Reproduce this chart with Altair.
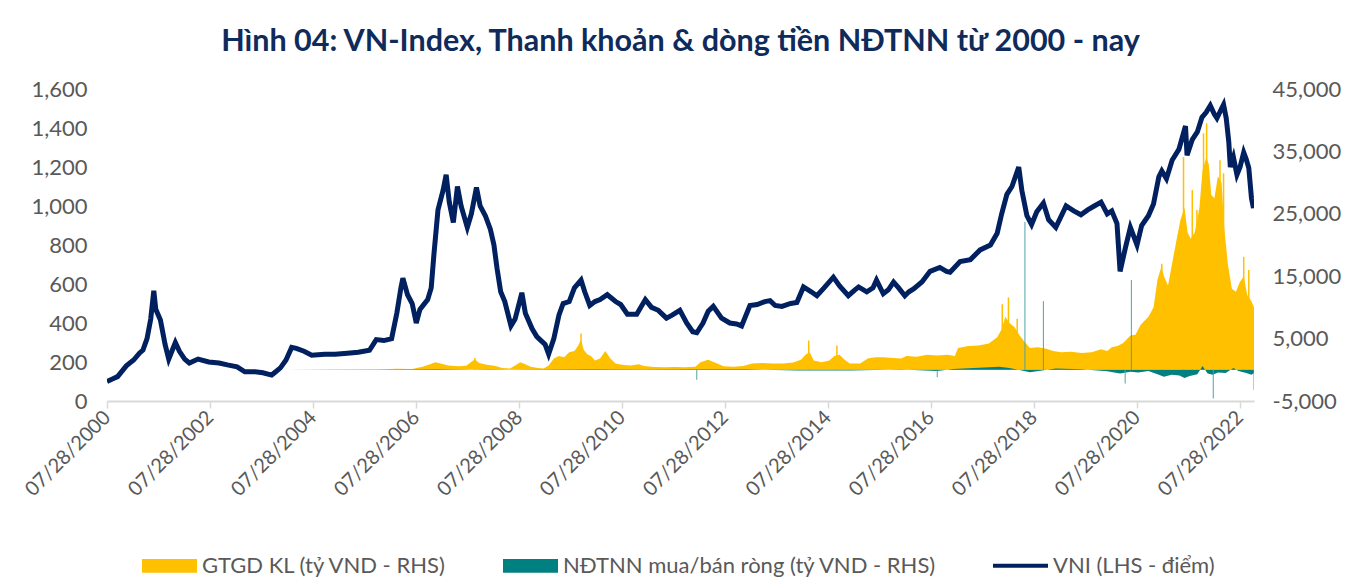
import altair as alt
import pandas as pd

# ---------------- data ----------------
vni_t = [2000.573, 2000.70, 2000.78, 2000.95, 2001.09, 2001.20, 2001.27, 2001.35, 2001.42, 2001.48,
         2001.52, 2001.61, 2001.70, 2001.77, 2001.84, 2001.90, 2001.98, 2002.08, 2002.17, 2002.34,
         2002.55, 2002.75, 2002.91, 2003.10, 2003.25, 2003.45, 2003.60, 2003.77, 2003.85, 2003.94,
         2004.05, 2004.16, 2004.25, 2004.40, 2004.55, 2004.80, 2005.00, 2005.24, 2005.45, 2005.67,
         2005.80, 2005.95, 2006.10, 2006.20, 2006.28, 2006.32, 2006.41, 2006.50, 2006.58, 2006.65,
         2006.80, 2006.87, 2006.92, 2007.00, 2007.05, 2007.10, 2007.16, 2007.22, 2007.30, 2007.38,
         2007.45, 2007.57, 2007.65, 2007.75, 2007.82, 2007.92, 2008.02, 2008.09, 2008.15, 2008.22,
         2008.30, 2008.42, 2008.50, 2008.55, 2008.63, 2008.70, 2008.83, 2008.92, 2009.00, 2009.08,
         2009.15, 2009.25, 2009.35, 2009.43, 2009.55, 2009.65, 2009.78, 2009.85, 2009.95, 2010.05,
         2010.15, 2010.29, 2010.45, 2010.55, 2010.68, 2010.86, 2011.03, 2011.15, 2011.28, 2011.44,
         2011.55, 2011.70, 2011.83, 2011.95, 2012.03, 2012.15, 2012.25, 2012.35, 2012.51, 2012.67,
         2012.80, 2012.90, 2013.06, 2013.20, 2013.35, 2013.45, 2013.55, 2013.68, 2013.85, 2013.97,
         2014.10, 2014.25, 2014.36, 2014.50, 2014.68, 2014.80, 2014.97, 2015.10, 2015.17, 2015.33,
         2015.45, 2015.52, 2015.65, 2015.75, 2015.85, 2015.95, 2016.07, 2016.15, 2016.24, 2016.40,
         2016.56, 2016.75, 2016.88, 2016.95, 2017.14, 2017.34, 2017.53, 2017.73, 2017.86, 2017.95,
         2018.05, 2018.15, 2018.28, 2018.34, 2018.44, 2018.53, 2018.63, 2018.76, 2018.86, 2019.00,
         2019.20, 2019.35, 2019.49, 2019.62, 2019.75, 2019.88, 2020.00, 2020.09, 2020.19, 2020.25,
         2020.35, 2020.45, 2020.58, 2020.67, 2020.80, 2020.90, 2021.00, 2021.06, 2021.15, 2021.26,
         2021.39, 2021.52, 2021.55, 2021.65, 2021.75, 2021.84, 2021.92, 2022.00, 2022.08, 2022.13,
         2022.22, 2022.26, 2022.31, 2022.36, 2022.39, 2022.45, 2022.52, 2022.58, 2022.65, 2022.70,
         2022.75, 2022.80, 2022.84, 2022.85]
vni_v = [100, 115, 125, 180, 210, 245, 261, 320, 420, 565,
         470, 415, 290, 215, 260, 300, 255, 215, 195, 215,
         200, 195, 185, 175, 150, 150, 145, 133, 150, 170,
         210, 275, 270, 255, 235, 240, 240, 245, 250, 260,
         315, 310, 320, 450, 580, 630, 545, 500, 400, 470,
         520, 580, 750, 980, 1030, 1080, 1160, 1020, 915, 1100,
         1000, 890, 960, 1095, 1000, 950, 880, 800, 680, 560,
         510, 385, 420, 470, 555, 450, 370, 330, 310, 290,
         240, 320, 440, 500, 510, 580, 620, 560, 490, 510,
         520, 545, 510, 495, 445, 445, 520, 480, 465, 425,
         440, 465, 400, 355, 350, 400, 460, 485, 425, 400,
         395, 385, 490, 495, 510, 515, 490, 485, 500, 505,
         585, 560, 540, 580, 635, 590, 540, 570, 585, 560,
         580, 620, 550, 570, 610, 580, 540, 560, 575, 610,
         665, 685, 665, 660, 715, 725, 775, 800, 860, 960,
         1060, 1100, 1200, 1080, 950, 905, 970, 1015, 930, 890,
         1000, 975, 955, 980, 1000, 1020, 960, 975, 910, 665,
         780, 890, 800, 900, 950, 1010, 1150, 1180, 1140, 1235,
         1290, 1410, 1260, 1340, 1380, 1455, 1480, 1515, 1470, 1450,
         1500, 1520, 1450, 1330, 1200, 1250, 1160, 1200, 1275, 1240,
         1195, 1040, 990, 1010]

liq_t = [2004.0, 2005.0, 2005.8, 2006.2, 2006.5, 2006.7, 2006.85, 2006.95, 2007.05, 2007.2,
         2007.4, 2007.55, 2007.72, 2007.8, 2007.95, 2008.1, 2008.25, 2008.4, 2008.5, 2008.6,
         2008.7, 2008.8, 2008.95, 2009.05, 2009.15, 2009.25, 2009.35, 2009.45, 2009.55, 2009.65,
         2009.72, 2009.78, 2009.83, 2009.9, 2009.97, 2010.05, 2010.15, 2010.25, 2010.35, 2010.45,
         2010.6, 2010.75, 2010.9, 2011.0, 2011.2, 2011.4, 2011.6, 2011.8, 2012.0, 2012.1,
         2012.25, 2012.4, 2012.55, 2012.75, 2012.93, 2013.1, 2013.3, 2013.5, 2013.7, 2013.9,
         2014.05, 2014.15, 2014.22, 2014.3, 2014.45, 2014.6, 2014.7, 2014.8, 2014.9, 2015.0,
         2015.2, 2015.35, 2015.5, 2015.65, 2015.85, 2016.0, 2016.1, 2016.3, 2016.5, 2016.7,
         2016.9, 2017.04, 2017.1, 2017.3, 2017.5, 2017.7, 2017.86, 2017.95, 2018.02, 2018.1,
         2018.2, 2018.3, 2018.4, 2018.5, 2018.65, 2018.8, 2018.95, 2019.1, 2019.3, 2019.5,
         2019.7, 2019.88, 2020.0, 2020.09, 2020.2, 2020.31, 2020.45, 2020.55, 2020.65, 2020.8,
         2020.9, 2020.98, 2021.05, 2021.1, 2021.18, 2021.27, 2021.35, 2021.42, 2021.5, 2021.56,
         2021.62, 2021.7, 2021.79, 2021.85, 2021.92, 2021.97, 2022.02, 2022.08, 2022.15, 2022.22,
         2022.27, 2022.34, 2022.42, 2022.5, 2022.57, 2022.65, 2022.72, 2022.8, 2022.85]
liq_v = [20, 30, 60, 150, 120, 500, 900, 1200, 1000, 700,
         550, 650, 1700, 1100, 800, 650, 300, 200, 700, 1200,
         900, 500, 300, 200, 700, 1800, 2200, 2000, 2800, 3000,
         3800, 4800, 3200, 2500, 2200, 1500, 1800, 3000, 1800, 1000,
         750, 700, 900, 600, 450, 400, 450, 400, 500, 1200,
         1600, 1100, 550, 500, 600, 1000, 1100, 1000, 1000, 1150,
         1600, 2500, 2800, 1500, 1200, 1500, 2200, 2400, 1600, 1000,
         1000, 1800, 2000, 2000, 1900, 1800, 2200, 2100, 2400, 2300,
         2400, 2200, 3500, 3800, 3900, 4200, 5200, 6500, 8500, 7500,
         6800, 5500, 4400, 3500, 3600, 3400, 3000, 2800, 2900, 2700,
         2800, 3300, 3000, 3600, 3800, 4300, 5500, 5600, 7200, 8500,
         10000, 14500, 16500, 15000, 13500, 17500, 21000, 24000, 26000, 22000,
         21000, 22000, 26000, 32000, 34000, 33000, 28000, 27500, 31000, 30000,
         23000, 17000, 13000, 12500, 14000, 15000, 12000, 11000, 10000]

liq_peak_t = [2007.72, 2009.78, 2014.2, 2014.75, 2017.96, 2018.08, 2018.25, 2021.06, 2021.48,
              2021.65, 2021.74, 2021.87, 2021.93, 2022.19, 2022.26, 2022.65, 2022.75]
liq_peak_v = [1900, 5800, 4700, 3900, 10500, 11600, 8200, 17000, 34100,
              28800, 25600, 37900, 39500, 33600, 31500, 18100, 16000]

flow_t = [2004.0, 2006.0, 2007.0, 2008.0, 2009.0, 2010.0, 2011.0, 2012.0, 2013.0, 2014.0,
          2015.0, 2016.0, 2016.7, 2017.0, 2017.9, 2018.1, 2018.5, 2019.0, 2019.5, 2020.0,
          2020.25, 2020.45, 2020.6, 2020.8, 2021.0, 2021.1, 2021.25, 2021.4, 2021.5, 2021.6,
          2021.75, 2021.85, 2021.95, 2022.05, 2022.15, 2022.3, 2022.45, 2022.55, 2022.7, 2022.8,
          2022.85]
flow_v = [0, 30, 80, -50, 60, 80, 50, 100, 80, -100,
          -120, 60, -200, 120, 500, 300, -400, 200, 100, -250,
          -600, -300, -450, -200, -800, -1100, -800, -900, -1300, -1000,
          -700, 600, -600, -800, -450, -500, 300, -200, -500, -800,
          -500]

flow_spike_t = [2012.03, 2016.70, 2018.40, 2018.76, 2020.35, 2020.47, 2022.06, 2022.85]
flow_spike_v = [-1600, -1200, 23700, 11000, -2200, 14400, -4600, -3200]

series_names = ["GTGD KL (tỷ VND - RHS)", "NĐTNN mua/bán ròng (tỷ VND - RHS)", "VNI (LHS - điểm)"]
series_colors = ["#FFC000", "#008080", "#002060"]
series_shapes = ["M-1,-0.25L1,-0.25L1,0.25L-1,0.25Z",
                 "M-1,-0.25L1,-0.25L1,0.25L-1,0.25Z",
                 "M-1,-0.075L1,-0.075L1,0.075L-1,0.075Z"]

left_ticks = list(range(0, 1601, 200))
right_ticks = list(range(-5000, 45001, 10000))
x_tick_years = list(range(2000, 2023, 2))


def to_date(y):
    year = int(y)
    d = pd.Timestamp(year=year, month=1, day=1) + pd.Timedelta(days=(y - year) * 365.25)
    return d.strftime("%Y-%m-%d")


vni_df = pd.DataFrame({"t": [to_date(t) for t in vni_t], "v": vni_v})
liq_df = pd.DataFrame({"t": [to_date(t) for t in liq_t], "v": liq_v})
peak_df = pd.DataFrame({"t": [to_date(t) for t in liq_peak_t], "v": liq_peak_v})
flow_df = pd.DataFrame({"t": [to_date(t) for t in flow_t], "v": flow_v})
spike_df = pd.DataFrame({"t": [to_date(t) for t in flow_spike_t], "v": flow_spike_v})
legend_df = pd.DataFrame({"t": ["2010-01-01"] * 3, "v": [None] * 3, "series": series_names})

FONT = "Lato"
GREY = "#595959"

x_enc = alt.X(
    "t:T",
    scale=alt.Scale(type="utc",
                    domain=[alt.DateTime(year=2000, month=7, date=28, utc=True),
                            alt.DateTime(year=2022, month=11, date=7, utc=True)]),
    axis=alt.Axis(values=[alt.DateTime(year=y, month=7, date=28, utc=True) for y in x_tick_years],
                  labelExpr="utcFormat(datum.value, '%m/%d/%Y')",
                  labelAngle=315, labelAlign="right", labelBaseline="middle",
                  labelFontSize=20, labelFont=FONT, labelColor=GREY, labelPadding=6,
                  domainColor="#D9D9D9", domainWidth=2, tickColor="#D9D9D9",
                  tickSize=7, tickWidth=1.5, grid=False, title=None),
)

y_left = alt.Y("v:Q", scale=alt.Scale(domain=[0, 1600], nice=False, zero=False),
               axis=alt.Axis(orient="left", values=left_ticks,
                             labelExpr="format(datum.value, ',')", domain=False,
                             ticks=False, grid=False, labelFontSize=22, labelFont=FONT,
                             labelColor=GREY, labelPadding=20, title=None))

y_right = alt.Y("v:Q", scale=alt.Scale(domain=[-5000, 45000], nice=False),
                axis=alt.Axis(orient="right", values=right_ticks,
                              labelExpr="replace(format(datum.value, ','), '\u2212', '-')",
                              domain=False, ticks=False, grid=False, labelFontSize=22,
                              labelFont=FONT, labelColor=GREY, labelPadding=18, title=None))

yellow = alt.Chart(liq_df).mark_area(color="#FFC000", clip=True).encode(x=x_enc, y=y_right)
peaks = alt.Chart(peak_df).mark_rule(color="#FFC000", strokeWidth=1.5, clip=True).encode(
    x=x_enc, y=y_right, y2=alt.datum(0))
teal = alt.Chart(flow_df).mark_area(color="#008080", clip=True).encode(x=x_enc, y=y_right)
spikes = alt.Chart(spike_df).mark_rule(color="#4FA3A8", strokeWidth=1, clip=True).encode(
    x=x_enc, y=y_right, y2=alt.datum(0))
right = alt.layer(yellow, peaks, teal, spikes)

line = alt.Chart(vni_df).mark_line(color="#002060", strokeWidth=5, clip=True).encode(x=x_enc, y=y_left)
legend_layer = alt.Chart(legend_df).mark_point(filled=True, opacity=1).encode(
    x=x_enc, y=y_left,
    color=alt.Color("series:N", scale=alt.Scale(domain=series_names, range=series_colors),
                    legend=alt.Legend(orient="none", legendX=35, legendY=449, direction="horizontal",
                                      title=None, labelFontSize=22, labelFont=FONT, labelColor=GREY,
                                      labelLimit=0, symbolSize=3025, symbolStrokeWidth=0,
                                      columnPadding=56, labelOffset=5)),
    shape=alt.Shape("series:N", scale=alt.Scale(domain=series_names, range=series_shapes)),
)
left = alt.layer(line, legend_layer)

chart = alt.layer(right, left).resolve_scale(y="independent").properties(
    width=1147, height=312,
    autosize=alt.AutoSizeParams(type="none"),
    padding={"left": 99, "top": 81, "right": 92, "bottom": 182},
    title=alt.TitleParams(text="Hình 04: VN-Index, Thanh khoản & dòng tiền NĐTNN từ 2000 - nay",
                          font=FONT, fontSize=30.5, fontWeight="bold", color="#0F2B5B",
                          anchor="middle", frame="group", offset=21),
).configure_view(stroke=None)

chart.save("out.html", embed_options={"renderer": "svg", "actions": False})
